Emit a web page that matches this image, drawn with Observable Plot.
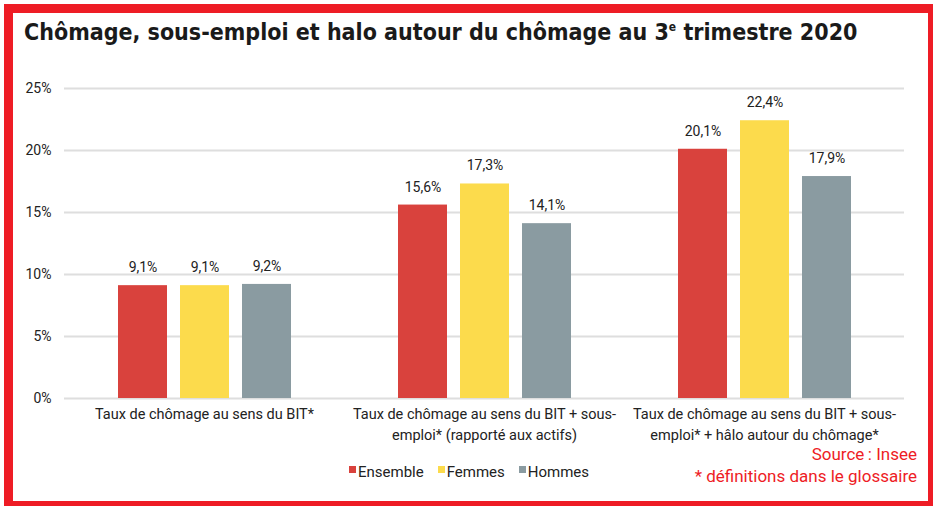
<!DOCTYPE html>
<html>
<head>
<meta charset="utf-8">
<script src="https://cdn.jsdelivr.net/npm/d3@7"></script>
<script src="https://cdn.jsdelivr.net/npm/@observablehq/plot@0.6"></script>
<style>
  html, body { margin: 0; padding: 0; background: #fff; }
  body { width: 933px; height: 506px; position: relative; overflow: hidden; font-family: Roboto, "Noto Sans", sans-serif; }
  #frame { position: absolute; left: 4px; top: 4px; width: 915px; height: 488px; border: 9px solid #ee1c25; }
  #title { position: absolute; left: 24px; top: 19px; font-family: "DejaVu Sans Condensed", "Liberation Sans Narrow", sans-serif; font-weight: bold; font-size: 23px; color: #1a1a1a; white-space: nowrap; }
  #title sup { font-size: 12px; vertical-align: 9px; line-height: 0; }
  #chart { position: absolute; left: 0; top: 70px; }
  #legend { position: absolute; top: 463px; left: 349px; font-size: 15px; color: #222; display: flex; }
  #legend .item { display: flex; align-items: center; margin-right: 14px; }
  #legend .sw { width: 7px; height: 7px; margin-right: 2px; position: relative; top: -3px; }
  #source { position: absolute; right: 16px; top: 443px; text-align: right; color: #ee1c25; font-size: 17px; line-height: 22px; }
</style>
</head>
<body>
<div id="frame"></div>
<div id="title">Chômage, sous-emploi et halo autour du chômage au 3<sup>e</sup> trimestre 2020</div>
<div id="chart"></div>
<div id="legend"></div>
<div id="source">Source&#8201;: Insee<br>* définitions dans le glossaire</div>
<script>
const categories = ["bit", "bit_sous", "bit_sous_halo"];
const categoryLabels = [
  "Taux de chômage au sens du BIT*",
  "Taux de chômage au sens du BIT + sous-\nemploi* (rapporté aux actifs)",
  "Taux de chômage au sens du BIT + sous-\nemploi* + hâlo autour du chômage*"
];
const series = ["Ensemble", "Femmes", "Hommes"];
const seriesColors = ["#d9423d", "#fcdb4c", "#8a9ba1"];
const ensemble = [9.1, 15.6, 20.1];
const femmes = [9.1, 17.3, 22.4];
const hommes = [9.2, 14.1, 17.9];
const yTicks = [0, 5, 10, 15, 20, 25];

const valuesBySeries = [ensemble, femmes, hommes];
const data = [];
categories.forEach((c, i) => {
  series.forEach((s, j) => data.push({cat: c, serie: s, value: valuesBySeries[j][i]}));
});
const labelOf = c => categoryLabels[categories.indexOf(c)];
const fmt = v => v.toFixed(1).replace(".", ",") + "%";

const chart = Plot.plot({
  width: 933,
  height: 378,
  marginLeft: 64,
  marginRight: 29,
  marginTop: 18,
  marginBottom: 50,
  style: {fontFamily: "Roboto, sans-serif", fontSize: "14px", color: "#222"},
  fx: {domain: categories, padding: 0, axis: null},
  x: {domain: series, paddingInner: 0.21, paddingOuter: 0.863, axis: null},
  y: {domain: [0, 25], ticks: yTicks, tickFormat: d => d + "%", label: null},
  color: {domain: series, range: seriesColors},
  marks: [
    Plot.gridY(yTicks, {stroke: "#dedede", strokeOpacity: 1, strokeWidth: 2}),
    Plot.axisY(yTicks, {tickSize: 0, tickPadding: 13, tickFormat: d => d + "%", label: null, fontSize: 14, fill: "#222"}),
    Plot.barY(data, {fx: "cat", x: "serie", y: "value", fill: "serie"}),
    Plot.text(data, {fx: "cat", x: "serie", y: "value", text: d => fmt(d.value), dy: -18, fontSize: 14, fill: "#222"}),
    Plot.text(categories, {fx: d => d, text: labelOf, frameAnchor: "bottom", lineAnchor: "top", dy: 6, lineHeight: 1.45, fontSize: 14.5, fill: "#222"})
  ]
});
document.getElementById("chart").appendChild(chart);

const legend = document.getElementById("legend");
series.forEach((s, i) => {
  const item = document.createElement("div");
  item.className = "item";
  const sw = document.createElement("span");
  sw.className = "sw";
  sw.style.background = seriesColors[i];
  item.appendChild(sw);
  item.appendChild(document.createTextNode(s));
  legend.appendChild(item);
});
</script>
</body>
</html>
